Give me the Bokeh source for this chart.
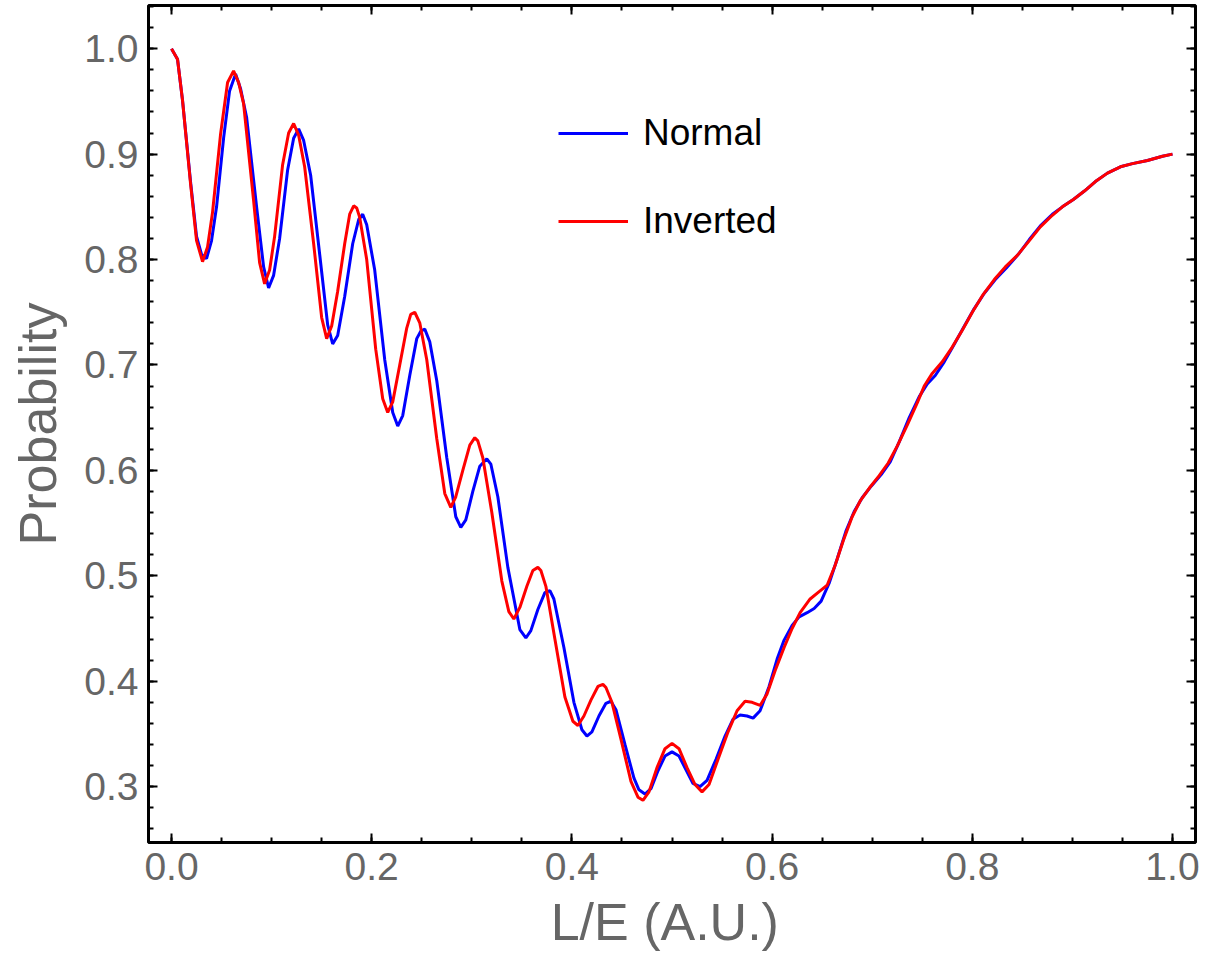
import numpy as np
from bokeh.plotting import figure
from bokeh.models import (Range1d, LinearAxis, FixedTicker, NumeralTickFormatter,
                          Legend, LegendItem, Grid)
from bokeh.embed import file_html
from bokeh.resources import INLINE

# ---- data ----
x_normal = [0.000, 0.006, 0.011, 0.019, 0.025, 0.030, 0.035, 0.040, 0.045, 0.052, 0.058,
            0.064, 0.069, 0.075, 0.085, 0.092, 0.097, 0.102, 0.108, 0.116, 0.122,
            0.127, 0.132, 0.139, 0.148, 0.156, 0.161, 0.166, 0.173, 0.181, 0.187,
            0.191, 0.195, 0.203, 0.213, 0.221, 0.226, 0.231, 0.238, 0.245, 0.249,
            0.253, 0.258, 0.265, 0.275, 0.284, 0.289, 0.294, 0.301, 0.308,
            0.315, 0.319, 0.326, 0.336, 0.348, 0.354, 0.359, 0.366, 0.373,
            0.378, 0.382, 0.392, 0.402, 0.410, 0.415, 0.420, 0.427, 0.434,
            0.439, 0.444, 0.453, 0.462, 0.467, 0.473, 0.479, 0.486, 0.493,
            0.500, 0.507, 0.514, 0.521, 0.528, 0.535, 0.544, 0.553, 0.561,
            0.568, 0.575, 0.581, 0.588, 0.597, 0.605, 0.612, 0.620, 0.627, 0.635,
            0.642, 0.649, 0.657, 0.665, 0.674, 0.682, 0.690, 0.699, 0.709, 0.718,
            0.727, 0.737, 0.747, 0.755, 0.763, 0.772, 0.781, 0.791, 0.801, 0.812,
            0.823, 0.834, 0.846, 0.857, 0.868, 0.880, 0.890, 0.901, 0.912, 0.923,
            0.935, 0.948, 0.960, 0.975, 0.990, 1.000]
y_normal = [1.000, 0.990, 0.951, 0.874, 0.822, 0.805, 0.801, 0.818, 0.850, 0.915, 0.960,
            0.976, 0.962, 0.935, 0.850, 0.793, 0.773, 0.785, 0.820, 0.885, 0.915,
            0.924, 0.913, 0.880, 0.805, 0.738, 0.720, 0.728, 0.765, 0.815, 0.838,
            0.843, 0.833, 0.790, 0.705, 0.655, 0.642, 0.652, 0.690, 0.725, 0.732,
            0.734, 0.722, 0.685, 0.612, 0.556, 0.546, 0.553, 0.580, 0.604,
            0.611, 0.606, 0.575, 0.508, 0.449, 0.441, 0.448, 0.468, 0.484,
            0.486, 0.478, 0.432, 0.380, 0.354, 0.348, 0.352, 0.367, 0.379,
            0.381, 0.373, 0.340, 0.308, 0.297, 0.293, 0.298, 0.315, 0.329,
            0.333, 0.329, 0.316, 0.303, 0.300, 0.306, 0.326, 0.348, 0.364,
            0.368, 0.367, 0.365, 0.372, 0.395, 0.421, 0.439, 0.453, 0.461, 0.465,
            0.469, 0.476, 0.493, 0.516, 0.543, 0.561, 0.574, 0.585, 0.596, 0.608,
            0.627, 0.650, 0.670, 0.682, 0.690, 0.703, 0.718, 0.735, 0.752, 0.768,
            0.781, 0.792, 0.805, 0.819, 0.832, 0.843, 0.850, 0.857, 0.865, 0.874,
            0.882, 0.888, 0.891, 0.894, 0.898, 0.900]

x_inverted = [0.000, 0.006, 0.011, 0.019, 0.025, 0.031, 0.036, 0.041, 0.049, 0.056,
              0.062, 0.067, 0.072, 0.082, 0.088, 0.093, 0.098, 0.103, 0.111, 0.117,
              0.122, 0.127, 0.133, 0.142, 0.150, 0.155, 0.160, 0.166, 0.173, 0.178,
              0.182, 0.185, 0.188, 0.195, 0.204, 0.211, 0.216, 0.221, 0.228, 0.235, 0.239,
              0.243, 0.248, 0.255, 0.265, 0.273, 0.279, 0.284, 0.291, 0.298,
              0.303, 0.306, 0.311, 0.320, 0.330, 0.337, 0.342, 0.348, 0.355, 0.361,
              0.366, 0.369, 0.374, 0.383, 0.393, 0.401, 0.406, 0.412, 0.419, 0.426,
              0.431, 0.434, 0.440, 0.449, 0.459, 0.466, 0.471, 0.477, 0.485, 0.493,
              0.500, 0.507, 0.515, 0.523, 0.530, 0.537, 0.546, 0.556, 0.565,
              0.573, 0.580, 0.588, 0.595, 0.603, 0.612, 0.620, 0.628, 0.638, 0.647,
              0.655, 0.663, 0.671, 0.680, 0.688, 0.697, 0.707, 0.716, 0.725, 0.735,
              0.745, 0.752, 0.760, 0.770, 0.780, 0.790, 0.800, 0.811, 0.822, 0.833,
              0.845, 0.857, 0.868, 0.880, 0.890, 0.901, 0.912, 0.923, 0.935, 0.948,
              0.960, 0.975, 0.990, 1.000]
y_inverted = [1.000, 0.990, 0.951, 0.872, 0.818, 0.798, 0.812, 0.845, 0.919, 0.968,
              0.979, 0.968, 0.948, 0.856, 0.797, 0.777, 0.790, 0.822, 0.890, 0.920,
              0.929, 0.918, 0.888, 0.815, 0.745, 0.725, 0.737, 0.770, 0.815, 0.843,
              0.851, 0.849, 0.840, 0.800, 0.715, 0.668, 0.655, 0.665, 0.700, 0.735, 0.748,
              0.750, 0.740, 0.705, 0.630, 0.578, 0.565, 0.575, 0.600, 0.624,
              0.631, 0.628, 0.612, 0.560, 0.495, 0.466, 0.459, 0.470, 0.490, 0.505,
              0.508, 0.505, 0.490, 0.440, 0.385, 0.362, 0.358, 0.367, 0.382, 0.395,
              0.397, 0.394, 0.380, 0.345, 0.305, 0.290, 0.287, 0.295, 0.318, 0.336,
              0.341, 0.336, 0.318, 0.302, 0.295, 0.302, 0.326, 0.352, 0.372,
              0.381, 0.380, 0.377, 0.388, 0.410, 0.432, 0.450, 0.465, 0.478, 0.485,
              0.491, 0.510, 0.533, 0.556, 0.571, 0.583, 0.595, 0.607, 0.623, 0.643,
              0.664, 0.680, 0.692, 0.703, 0.717, 0.733, 0.750, 0.767, 0.781, 0.793,
              0.804, 0.818, 0.831, 0.842, 0.850, 0.857, 0.865, 0.874, 0.882, 0.888,
              0.891, 0.894, 0.898, 0.900]

x_ticks = [0.0, 0.2, 0.4, 0.6, 0.8, 1.0]
y_ticks = [0.3, 0.4, 0.5, 0.6, 0.7, 0.8, 0.9, 1.0]
series_labels = ["Normal", "Inverted"]

FONT = "Liberation Sans"
GRAY = "#666666"

x_minor = [round(v, 3) for v in np.arange(-0.05, 1.06, 0.05)]
y_minor = [round(v, 3) for v in np.arange(0.24, 1.06, 0.02)]

p = figure(width=1205, height=970,
           x_range=Range1d(-0.023, 1.023), y_range=Range1d(0.247, 1.041),
           output_backend="svg", toolbar_location=None,
           x_axis_location=None, y_axis_location=None,
           min_border_left=148, min_border_right=10,
           min_border_top=5, min_border_bottom=128)
p.center = [c for c in p.center if not isinstance(c, Grid)]
p.outline_line_color = "black"
p.outline_line_width = 3
p.background_fill_color = "white"
p.border_fill_color = "white"


def make_axis(ticks, minor, show_labels):
    ax = LinearAxis(ticker=FixedTicker(ticks=ticks, minor_ticks=minor),
                    formatter=NumeralTickFormatter(format="0.0"))
    ax.axis_line_color = None
    ax.major_tick_in = 9
    ax.major_tick_out = 0
    ax.minor_tick_in = 5
    ax.minor_tick_out = 0
    ax.major_tick_line_width = 2
    ax.minor_tick_line_width = 2
    ax.major_tick_line_color = "black"
    ax.minor_tick_line_color = "black"
    if show_labels:
        ax.major_label_text_font = FONT
        ax.major_label_text_font_size = "39px"
        ax.major_label_text_color = GRAY
        ax.axis_label_text_font = FONT
        ax.axis_label_text_font_size = "52px"
        ax.axis_label_text_color = GRAY
        ax.axis_label_text_font_style = "normal"
    else:
        ax.major_label_text_font_size = "1px"
        ax.major_label_text_color = None
        ax.major_label_standoff = 0
    return ax


left = make_axis(y_ticks, y_minor, True)
left.axis_label = "Probability"
left.major_label_standoff = 10
left.axis_label_standoff = 14
p.add_layout(left, "left")

below = make_axis(x_ticks, x_minor, True)
below.axis_label = "L/E  (A.U.)"
below.major_label_standoff = 10
below.axis_label_standoff = 10
p.add_layout(below, "below")

p.add_layout(make_axis(x_ticks, x_minor, False), "above")
p.add_layout(make_axis(y_ticks, y_minor, False), "right")

rb = p.line(x_normal, y_normal, line_color="#0000ff", line_width=3)
rr = p.line(x_inverted, y_inverted, line_color="#ff0000", line_width=3)

legend = Legend(items=[LegendItem(label=series_labels[0], renderers=[rb]),
                       LegendItem(label=series_labels[1], renderers=[rr])],
                location=(410, 600),
                glyph_width=70, glyph_height=40, label_height=40,
                label_standoff=15, spacing=46, padding=0, margin=0,
                border_line_color=None, background_fill_alpha=0,
                label_text_font=FONT, label_text_font_size="37px",
                label_text_color="black")
p.add_layout(legend)

open("out.html", "w").write(file_html(p, INLINE))
